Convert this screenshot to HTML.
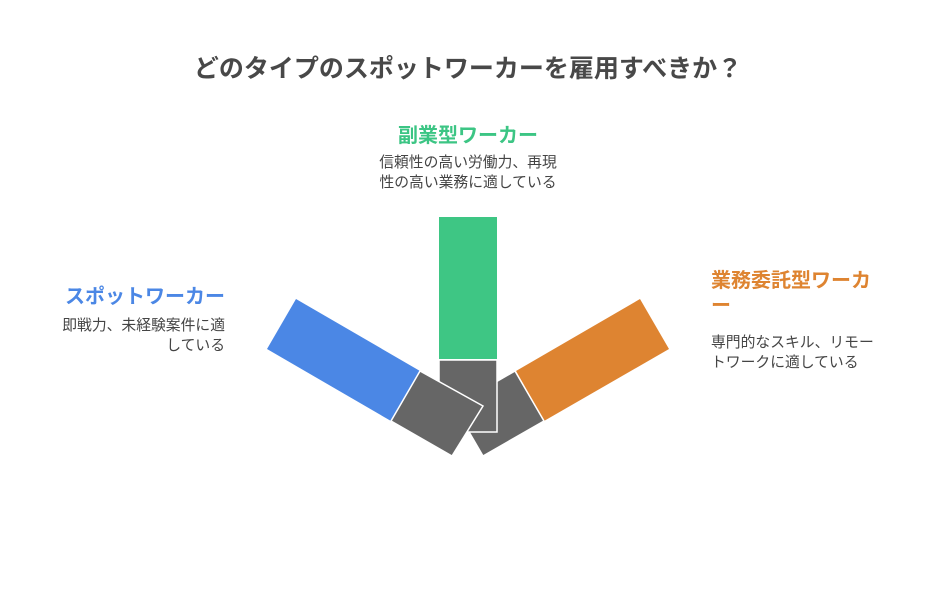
<!DOCTYPE html>
<html><head><meta charset="utf-8"><style>
body{margin:0;width:936px;height:612px;background:#fff;overflow:hidden;position:relative;font-family:"Liberation Sans","Noto Sans CJK JP",sans-serif;color:#444}
.t{position:absolute;white-space:nowrap}
</style></head><body>
<div class="t" style="left:0;width:936px;text-align:center;top:49px;font-size:25px;font-weight:bold;color:#484848">どのタイプのスポットワーカーを雇用すべきか？</div>
<div class="t" style="left:0;width:936px;text-align:center;top:119px;font-size:20px;font-weight:bold;color:#3cc584">副業型ワーカー</div>
<div class="t" style="left:0;width:936px;text-align:center;top:153px;font-size:14.8px;line-height:20px">信頼性の高い労働力、再現<br>性の高い業務に適している</div>
<div class="t" style="right:711px;text-align:right;top:280px;font-size:20px;font-weight:bold;color:#4b87e5">スポットワーカー</div>
<div class="t" style="right:711px;text-align:right;top:316px;font-size:14.8px;line-height:20px">即戦力、未経験案件に適<br>している</div>
<div class="t" style="left:711px;top:269px;font-size:20px;font-weight:bold;color:#de8431;line-height:25px">業務委託型ワーカ<br>ー</div>
<div class="t" style="left:711px;top:333px;font-size:14.8px;line-height:20px">専門的なスキル、リモー<br>トワークに適している</div>
<svg width="936" height="612" style="position:absolute;left:0;top:0">
<rect x="439" y="217" width="58" height="142" fill="#3ec684"/>
<polygon points="296,299 267,349 391,421 420,371" fill="#4b87e5"/>
<polygon points="640,299 669,349 544,421 516,371" fill="#de8431"/>
<polygon points="515,371 544,421 483,456 454,406" fill="#666" stroke="#fff" stroke-width="1.5"/>
<rect x="439" y="360" width="58" height="72" fill="#666" stroke="#fff" stroke-width="1.5"/>
<polygon points="420,371 483,406 452,456 391,421" fill="#666" stroke="#fff" stroke-width="1.5"/>
</svg>
</body></html>
